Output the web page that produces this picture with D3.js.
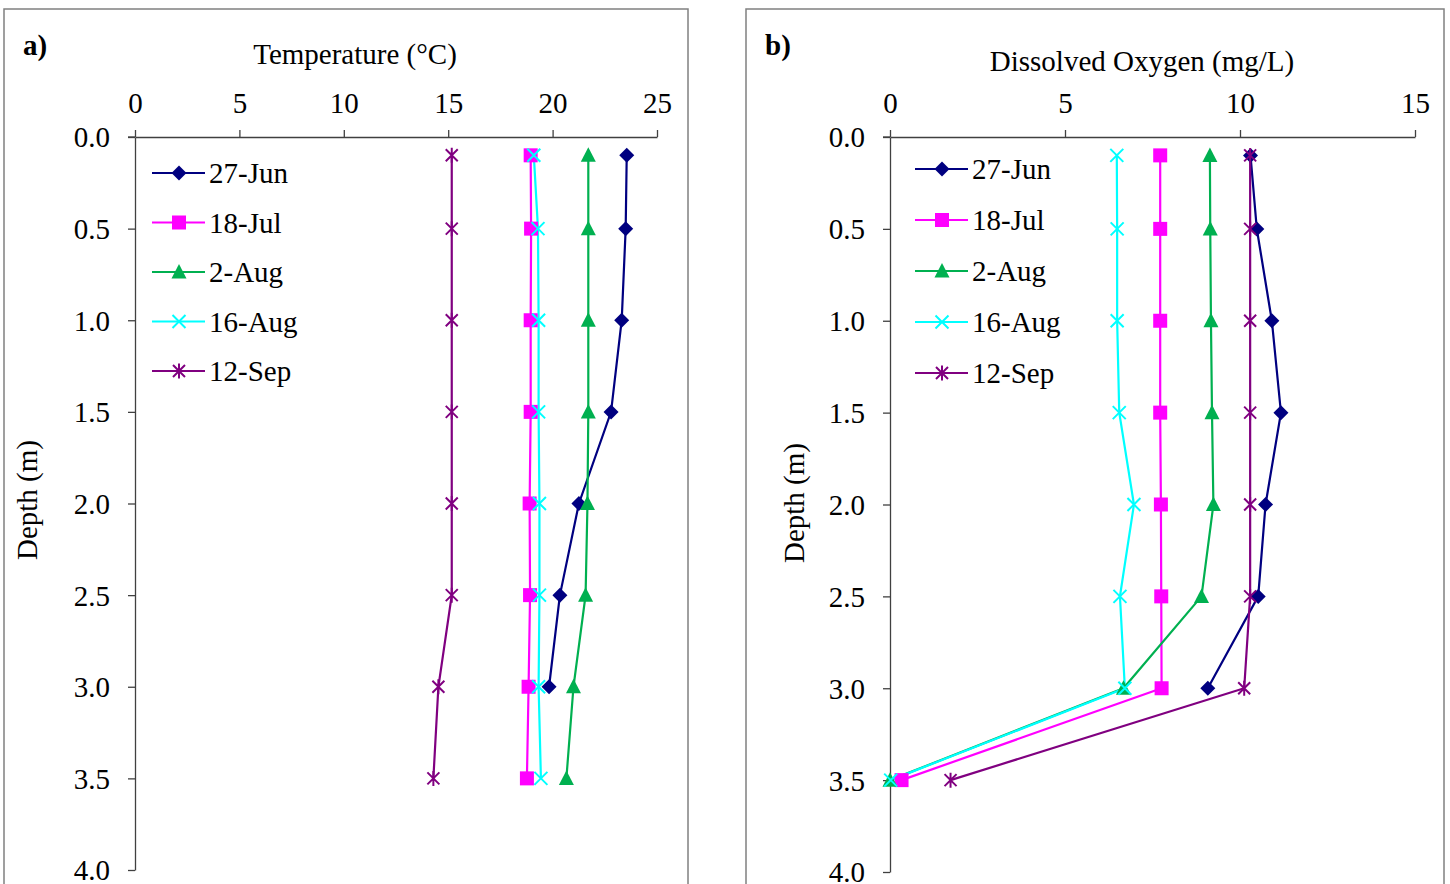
<!DOCTYPE html>
<html><head><meta charset="utf-8">
<script src="https://cdn.jsdelivr.net/npm/d3@7"></script>
<style>body{margin:0;background:#fff}svg{display:block}svg text{font-family:"Liberation Serif","Times New Roman",serif !important;fill:#000}</style>
</head><body><svg id="c" width="1450" height="884"></svg>
<script>
const depths = [0.1, 0.5, 1.0, 1.5, 2.0, 2.5, 3.0, 3.5];
const seriesNames = ["27-Jun", "18-Jul", "2-Aug", "16-Aug", "12-Sep"];
const seriesColors = ["#000080", "#FF00FF", "#00B050", "#00FFFF", "#800080"];
const seriesMarkers = ["diamond", "square", "triangle", "x", "star"];
// Temperature (°C)
const temp27Jun = [23.55, 23.5, 23.31, 22.8, 21.26, 20.35, 19.83, null];
const temp18Jul = [18.95, 18.97, 18.95, 18.95, 18.9, 18.92, 18.85, 18.77];
const temp2Aug  = [21.71, 21.71, 21.71, 21.71, 21.67, 21.58, 21.0, 20.66];
const temp16Aug = [19.1, 19.3, 19.33, 19.33, 19.37, 19.37, 19.33, 19.44];
const temp12Sep = [15.17, 15.17, 15.17, 15.17, 15.17, 15.17, 14.53, 14.29];
// Dissolved oxygen (mg/L)
const do27Jun = [10.3, 10.48, 10.91, 11.17, 10.73, 10.52, 9.08, null];
const do18Jul = [7.72, 7.72, 7.72, 7.72, 7.74, 7.75, 7.76, 0.33];
const do2Aug  = [9.14, 9.15, 9.17, 9.2, 9.24, 8.9, 6.67, 0.0];
const do16Aug = [6.48, 6.49, 6.49, 6.55, 6.97, 6.57, 6.71, 0.02];
const do12Sep = [10.29, 10.29, 10.29, 10.29, 10.29, 10.29, 10.12, 1.73];
const tempTicks = [0, 5, 10, 15, 20, 25];
const doTicks = [0, 5, 10, 15];
const depthTicks = [0, 0.5, 1.0, 1.5, 2.0, 2.5, 3.0, 3.5, 4.0];

const FS = "29px";
const svg = d3.select("#c");

function marker(g, type, color, x, y) {
  const s = 7.5;
  if (type === "diamond") {
    g.append("path").attr("d", `M${x},${y-s}L${x+s},${y}L${x},${y+s}L${x-s},${y}Z`).attr("fill", color);
  } else if (type === "square") {
    g.append("rect").attr("x", x-7).attr("y", y-7).attr("width", 14).attr("height", 14).attr("fill", color);
  } else if (type === "triangle") {
    g.append("path").attr("d", `M${x},${y-8}L${x+7.5},${y+6.5}L${x-7.5},${y+6.5}Z`).attr("fill", color);
  } else if (type === "x") {
    g.append("path").attr("d", `M${x-6.5},${y-6.5}L${x+6.5},${y+6.5}M${x-6.5},${y+6.5}L${x+6.5},${y-6.5}`).attr("stroke", color).attr("stroke-width", 2);
  } else if (type === "star") {
    g.append("path").attr("d", `M${x-6},${y-6}L${x+6},${y+6}M${x-6},${y+6}L${x+6},${y-6}M${x},${y-7.5}L${x},${y+7.5}`).attr("stroke", color).attr("stroke-width", 2);
  }
}

function panel(opt) {
  const g = svg.append("g");
  g.append("rect").attr("x", opt.frame[0]).attr("y", opt.frame[1]).attr("width", opt.frame[2]).attr("height", opt.frame[3])
    .attr("fill", "none").attr("stroke", "#808080").attr("stroke-width", 1.5);
  const x = d3.scaleLinear().domain([opt.ticks[0], opt.ticks[opt.ticks.length-1]]).range([opt.x0, opt.x1]);
  const y = d3.scaleLinear().domain([0, 4]).range([opt.y0, opt.y1]);
  const xa = g.append("g").attr("transform", `translate(0,${opt.y0})`)
    .call(d3.axisTop(x).tickValues(opt.ticks).tickFormat(d3.format("d")).tickSize(7).tickPadding(17).tickSizeOuter(0));
  const ya = g.append("g").attr("transform", `translate(${opt.x0},0)`)
    .call(d3.axisLeft(y).tickValues(depthTicks).tickFormat(d3.format(".1f")).tickSize(7).tickPadding(18).tickSizeOuter(0));
  [xa, ya].forEach(a => {
    a.attr("font-family", null).attr("font-size", null);
    a.selectAll("path,line").attr("stroke", "#404040").attr("stroke-width", 1.3);
    a.selectAll("text").attr("font-family", "Liberation Serif").style("font-size", FS).attr("fill", "#000");
  });
  ya.selectAll("text").attr("dy", "0.34em");
  g.append("line").attr("x1", opt.x0 - 7).attr("x2", opt.x0).attr("y1", opt.y0).attr("y2", opt.y0).attr("stroke", "#404040").attr("stroke-width", 1.3);

  g.append("text").attr("x", opt.label[0]).attr("y", opt.label[1]).style("font-size", FS).style("font-weight", "bold").text(opt.labelText);
  g.append("text").attr("x", opt.title[0]).attr("y", opt.title[1]).attr("text-anchor", "middle").style("font-size", FS).text(opt.titleText);
  g.append("text").attr("transform", `translate(${opt.ytitle[0]},${opt.ytitle[1]}) rotate(-90)`).attr("text-anchor", "middle").style("font-size", FS).text("Depth (m)");

  const line = d3.line().defined(d => d[1] != null).x(d => x(d[1])).y(d => y(d[0]));
  opt.series.forEach((vals, i) => {
    const pts = depths.map((d, j) => [d, vals[j]]);
    g.append("path").attr("d", line(pts)).attr("fill", "none").attr("stroke", seriesColors[i]).attr("stroke-width", 2.2);
  });
  opt.series.forEach((vals, i) => {
    depths.forEach((d, j) => { if (vals[j] != null) marker(g, seriesMarkers[i], seriesColors[i], x(vals[j]), y(d)); });
  });
  seriesNames.forEach((n, i) => {
    const ly = opt.leg[1] + i * opt.leg[2];
    const lx = opt.leg[0];
    g.append("line").attr("x1", lx).attr("x2", lx + 53).attr("y1", ly).attr("y2", ly).attr("stroke", seriesColors[i]).attr("stroke-width", 2.2);
    marker(g, seriesMarkers[i], seriesColors[i], lx + 27, ly);
    g.append("text").attr("x", lx + 57).attr("y", ly + 10).style("font-size", FS).text(n);
  });
}

panel({frame: [4, 9, 684, 900], x0: 135, x1: 657, y0: 137, y1: 870, ticks: tempTicks,
  series: [temp27Jun, temp18Jul, temp2Aug, temp16Aug, temp12Sep],
  label: [23, 55], labelText: "a)", title: [355, 64], titleText: "Temperature (°C)", ytitle: [37, 500],
  leg: [152, 173, 49.5]});
panel({frame: [746, 9, 698, 900], x0: 890, x1: 1415, y0: 137, y1: 872, ticks: doTicks,
  series: [do27Jun, do18Jul, do2Aug, do16Aug, do12Sep],
  label: [765, 55], labelText: "b)", title: [1142, 71], titleText: "Dissolved Oxygen (mg/L)", ytitle: [804, 503],
  leg: [915, 169, 51]});
</script></body></html>
